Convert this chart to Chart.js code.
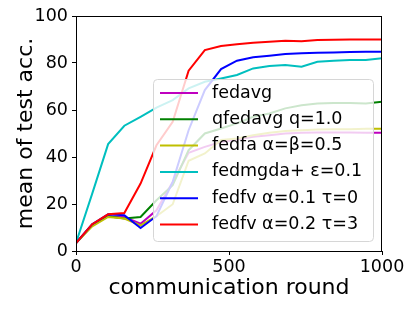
<!DOCTYPE html>
<html>
<head>
<meta charset="utf-8">
<script src="https://cdn.jsdelivr.net/npm/chart.js@4.4.1/dist/chart.umd.min.js"></script>
<style>
  html, body { margin: 0; padding: 0; background: #fff; }
  canvas { display: block; }
</style>
</head>
<body>
<canvas id="chart" width="415" height="311"></canvas>
<script>
'use strict';

// communication rounds where test accuracy was recorded
const ROUNDS = [0, 53, 105, 158, 211, 263, 316, 368, 421, 474, 526, 579, 632, 684, 737, 789, 842, 895, 947, 1000];

const FEDAVG   = [3.4, 11.4, 14.9, 14.5, 11.6, 17.3, 29.4, 41.8, 44.3, 46.4, 47.4, 48.6, 49.3, 50.0, 50.3, 50.4, 50.4, 50.4, 50.3, 50.3];
const QFEDAVG  = [3.4, 11.0, 14.8, 13.8, 14.5, 21.6, 28.0, 42.9, 50.0, 52.1, 54.3, 57.1, 58.5, 60.7, 62.0, 62.8, 63.0, 63.0, 62.8, 63.5];
const FEDFA    = [3.4, 10.5, 14.5, 13.8, 10.9, 14.8, 19.9, 38.4, 41.5, 47.2, 47.9, 49.3, 50.3, 51.1, 51.4, 51.7, 51.8, 51.8, 52.0, 52.0];
const FEDMGDA  = [3.4, 24.4, 45.5, 53.3, 57.1, 61.0, 64.2, 69.2, 72.0, 73.4, 74.9, 77.7, 78.7, 79.1, 78.4, 80.5, 81.0, 81.3, 81.3, 82.0];
const FEDFV_01 = [3.4, 11.4, 15.6, 15.2, 9.8, 14.8, 29.4, 51.4, 68.5, 77.4, 81.0, 82.4, 83.1, 83.8, 84.1, 84.4, 84.5, 84.7, 84.8, 84.8];
const FEDFV_02 = [3.4, 11.4, 15.6, 16.2, 28.7, 45.0, 55.0, 76.7, 85.5, 87.2, 88.0, 88.6, 89.0, 89.5, 89.3, 89.8, 89.9, 90.0, 90.0, 90.0];

const LABELS = ['fedavg', 'qfedavg q=1.0', 'fedfa \u03b1=\u03b2=0.5', 'fedmgda+ \u03b5=0.1', 'fedfv \u03b1=0.1 \u03c4=0', 'fedfv \u03b1=0.2 \u03c4=3'];
const SERIES = [FEDAVG, QFEDAVG, FEDFA, FEDMGDA, FEDFV_01, FEDFV_02];
const COLORS = ['#bf00bf', '#008000', '#bfbf00', '#00bfbf', '#0000ff', '#ff0000'];

const X_TICKS = [0, 500, 1000];
const Y_TICKS = [0, 20, 40, 60, 80, 100];

const FONT = 'DejaVu Sans';

// matplotlib style frame + legend drawn on top of the lines
const framePlugin = {
  id: 'frame',
  afterDatasetsDraw(chart) {
    const ctx = chart.ctx;
    const a = chart.chartArea;
    ctx.save();
    ctx.strokeStyle = '#000';
    ctx.lineWidth = 1;
    ctx.strokeRect(Math.round(a.left) + 0.5, Math.round(a.top) + 0.5,
                   Math.round(a.right - a.left) - 1, Math.round(a.bottom - a.top));

    // legend box
    const bx = 153, by = 79, bw = 220, bh = 162;
    ctx.beginPath();
    ctx.roundRect(bx + 0.5, by + 0.5, bw, bh, 4);
    ctx.fillStyle = 'rgba(255,255,255,0.8)';
    ctx.fill();
    ctx.strokeStyle = '#d6d6d6';
    ctx.stroke();

    ctx.font = '17.5px "' + FONT + '"';
    ctx.textBaseline = 'middle';
    ctx.textAlign = 'left';
    chart.data.datasets.forEach((ds, i) => {
      const y = 93 + i * 26.3;
      ctx.strokeStyle = ds.borderColor;
      ctx.lineWidth = 2;
      ctx.beginPath();
      ctx.moveTo(160, y);
      ctx.lineTo(198, y);
      ctx.stroke();
      ctx.fillStyle = '#000';
      ctx.fillText(ds.label, 212, y);
    });
    ctx.restore();
  }
};

new Chart(document.getElementById('chart'), {
  type: 'line',
  data: {
    datasets: SERIES.map((vals, i) => ({
      label: LABELS[i],
      data: ROUNDS.map((r, j) => ({x: r, y: vals[j]})),
      borderColor: COLORS[i],
      borderWidth: 2,
      pointRadius: 0,
      fill: false,
      tension: 0,
      order: SERIES.length - i
    }))
  },
  options: {
    responsive: false,
    animation: false,
    layout: { padding: { top: 16, right: 33, left: 0, bottom: 0 } },
    plugins: { legend: { display: false }, tooltip: { enabled: false } },
    scales: {
      x: {
        type: 'linear',
        min: 0,
        max: 1000,
        afterBuildTicks: (s) => { s.ticks = X_TICKS.map(v => ({value: v})); },
        afterFit: (s) => { s.height = 60; },
        grid: { drawOnChartArea: false, drawTicks: true, tickLength: 4, color: '#000' },
        border: { display: true, color: '#000' },
        ticks: { color: '#000', padding: 2, maxRotation: 0, callback: (v) => String(v),
                 font: { family: FONT, size: 17.5 } },
        title: { display: true, text: 'communication round', color: '#000',
                 font: { family: FONT, size: 22 }, padding: { top: 0, bottom: 10 } }
      },
      y: {
        min: 0,
        max: 100,
        afterBuildTicks: (s) => { s.ticks = Y_TICKS.map(v => ({value: v})); },
        afterFit: (s) => { s.width = 76; },
        grid: { drawOnChartArea: false, drawTicks: true, tickLength: 4, color: '#000' },
        border: { display: true, color: '#000' },
        ticks: { color: '#000', padding: 4, callback: (v) => String(v),
                 font: { family: FONT, size: 17.5 } },
        title: { display: true, text: 'mean of test acc.', color: '#000',
                 font: { family: FONT, size: 22 }, padding: { top: 13, bottom: 0 } }
      }
    }
  },
  plugins: [framePlugin]
});
</script>
</body>
</html>
